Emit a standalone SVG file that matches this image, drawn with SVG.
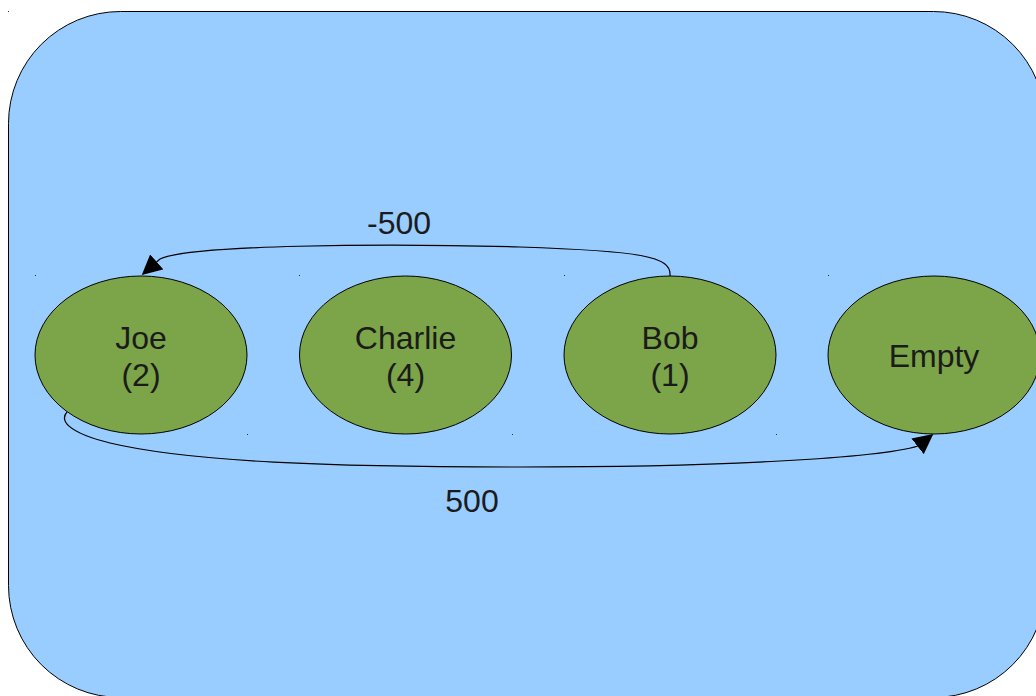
<svg xmlns="http://www.w3.org/2000/svg" width="1036" height="696" viewBox="0 0 1036 696">
  <style>
    .node { fill: #7ba548; stroke: #000; stroke-width: 1; }
    .label { font-family: "Liberation Sans", Arial, sans-serif; font-size: 32px; fill: #1b1b1b; text-anchor: middle; }
    .edge { fill: none; stroke: #000; stroke-width: 1.2; }
    .tick { fill: #333; }
  </style>
  <defs>
    <marker id="arrow" viewBox="0 0 12 12" refX="11" refY="6" markerWidth="20" markerHeight="20" markerUnits="userSpaceOnUse" orient="auto">
      <path d="M0,0 L12,6 L0,12 Z" fill="#000"/>
    </marker>
  </defs>

  <!-- background panel -->
  <rect x="8.5" y="11.5" width="1037" height="686" rx="112" ry="112" fill="#99ccff" stroke="#000" stroke-width="1"/>
  <rect class="tick" x="8" y="11" width="1" height="1"/>

  <!-- connectors -->
  <g id="connectors">
    <path class="edge" d="M670,276 C672,256 640,251 520,247 C380,243 190,245 160,259 L143,274" marker-end="url(#arrow)"/>
    <text class="label" x="399" y="234">-500</text>
    <path class="edge" d="M67,412 C60,420 66,432 110,443 C190,462 330,467 520,467 C720,467 880,458 918,446 L932,435" marker-end="url(#arrow)"/>
    <text class="label" x="472" y="512">500</text>
  </g>

  <g id="node-joe">
    <ellipse class="node" cx="141" cy="355" rx="106" ry="79"/>
    <text class="label" x="141" y="349">Joe</text>
    <text class="label" x="141" y="386">(2)</text>
  </g>
  <g id="node-charlie">
    <ellipse class="node" cx="405.5" cy="355" rx="106" ry="79"/>
    <text class="label" x="405.5" y="349">Charlie</text>
    <text class="label" x="405.5" y="386">(4)</text>
  </g>
  <g id="node-bob">
    <ellipse class="node" cx="670" cy="355" rx="106" ry="79"/>
    <text class="label" x="670" y="349">Bob</text>
    <text class="label" x="670" y="386">(1)</text>
  </g>
  <g id="node-empty">
    <ellipse class="node" cx="934" cy="355" rx="106" ry="79"/>
    <text class="label" x="934" y="367">Empty</text>
  </g>

  <!-- bounding-box marks -->
  <g class="tick">
    <rect x="35" y="275" width="1" height="1"/>
    <rect x="299" y="275" width="1" height="1"/>
    <rect x="564" y="275" width="1" height="1"/>
    <rect x="828" y="275" width="1" height="1"/>
    <rect x="247" y="434" width="1" height="1"/>
    <rect x="512" y="434" width="1" height="1"/>
    <rect x="776" y="434" width="1" height="1"/>
  </g>
</svg>
